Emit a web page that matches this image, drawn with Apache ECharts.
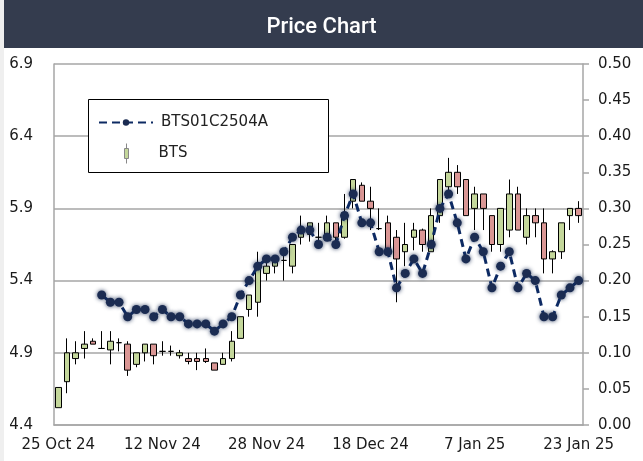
<!DOCTYPE html>
<html>
<head>
<meta charset="utf-8">
<script src="https://cdn.jsdelivr.net/npm/echarts@6/dist/echarts.min.js"></script>
<style>
  html, body { margin: 0; padding: 0; background: #fff; }
  #chart { width: 643px; height: 461px; }
</style>
</head>
<body>
<div id="chart"></div>
<script>
// trading days (SET calendar)
var dates = ['25 Oct 24','28 Oct 24','29 Oct 24','30 Oct 24','31 Oct 24','1 Nov 24','4 Nov 24','5 Nov 24','6 Nov 24','7 Nov 24',
  '8 Nov 24','11 Nov 24','12 Nov 24','13 Nov 24','14 Nov 24','15 Nov 24','18 Nov 24','19 Nov 24','20 Nov 24','21 Nov 24',
  '22 Nov 24','25 Nov 24','26 Nov 24','27 Nov 24','28 Nov 24','29 Nov 24','2 Dec 24','3 Dec 24','4 Dec 24','6 Dec 24',
  '9 Dec 24','11 Dec 24','12 Dec 24','13 Dec 24','16 Dec 24','17 Dec 24','18 Dec 24','19 Dec 24','20 Dec 24','23 Dec 24',
  '24 Dec 24','25 Dec 24','26 Dec 24','27 Dec 24','30 Dec 24','2 Jan 25','3 Jan 25','6 Jan 25','7 Jan 25','8 Jan 25',
  '9 Jan 25','10 Jan 25','13 Jan 25','14 Jan 25','15 Jan 25','16 Jan 25','17 Jan 25','20 Jan 25','21 Jan 25','22 Jan 25',
  '23 Jan 25'];

// BTS candles
var btsOpen = [4.52,4.70,4.86,4.93,4.98,4.93,4.92,4.97,4.96,4.82,
  4.90,4.96,4.91,4.91,4.88,4.86,4.86,4.86,4.83,4.82,
  4.86,5.00,5.20,5.25,5.45,5.50,5.54,5.50,5.70,5.72,
  5.70,5.70,5.80,5.70,5.95,6.06,5.95,5.76,5.80,5.70,
  5.60,5.70,5.75,5.60,5.85,6.05,6.15,6.10,5.90,6.00,
  5.85,5.65,5.75,6.00,5.70,5.85,5.80,5.55,5.60,5.85,
  5.90];
var btsClose = [4.66,4.90,4.90,4.96,4.96,4.93,4.98,4.97,4.78,4.90,
  4.96,4.88,4.91,4.91,4.90,4.84,4.84,4.84,4.78,4.86,
  4.98,5.15,5.30,5.48,5.50,5.55,5.54,5.65,5.75,5.80,
  5.70,5.80,5.70,5.87,6.10,5.95,5.90,5.76,5.60,5.55,
  5.65,5.75,5.65,5.85,6.10,6.15,6.05,5.85,6.00,5.90,
  5.65,5.90,6.00,5.75,5.85,5.80,5.55,5.60,5.80,5.90,
  5.85];
var btsLow = [4.52,4.62,4.82,4.86,4.96,4.93,4.82,4.91,4.74,4.80,
  4.84,4.82,4.88,4.88,4.86,4.82,4.78,4.83,4.78,4.82,
  4.84,5.00,5.15,5.15,5.40,5.45,5.40,5.45,5.65,5.67,
  5.63,5.68,5.66,5.69,5.90,5.95,5.75,5.75,5.59,5.25,
  5.50,5.61,5.60,5.60,5.80,6.00,6.00,5.85,5.75,5.75,
  5.60,5.60,5.70,5.75,5.65,5.70,5.45,5.45,5.55,5.75,
  5.80];
var btsHigh = [4.66,5.00,4.98,5.05,5.00,5.05,5.05,5.00,4.98,4.90,
  4.96,4.96,4.98,4.95,4.92,4.90,4.90,4.93,4.83,4.90,
  5.05,5.15,5.30,5.60,5.54,5.57,5.60,5.65,5.85,5.80,
  5.80,5.85,5.80,6.00,6.10,6.08,6.05,5.90,5.85,5.75,
  5.80,5.80,5.76,5.90,6.10,6.25,6.20,6.10,6.05,6.00,
  5.85,5.90,6.10,6.05,5.90,5.90,5.90,5.61,5.80,5.90,
  5.95];

// warrant BTS01C2504A (right axis), starts on 1 Nov
var dwPrice = [null,null,null,null,null,0.18,0.17,0.17,0.15,0.16,
  0.16,0.15,0.16,0.15,0.15,0.14,0.14,0.14,0.13,0.14,
  0.15,0.18,0.20,0.22,0.23,0.23,0.24,0.26,0.27,0.27,
  0.25,0.26,0.25,0.29,0.32,0.28,0.28,0.24,0.24,0.19,
  0.21,0.23,0.21,0.25,0.30,0.32,0.28,0.23,0.26,0.24,
  0.19,0.22,0.24,0.19,0.21,0.20,0.15,0.15,0.18,0.19,
  0.20];

var candles = btsOpen.map(function (o, i) {
  return [o, btsClose[i], btsLow[i], btsHigh[i]];
});

var font = 'DejaVu Sans';
var gridColor = '#a6a6a6';

var chart = echarts.init(document.getElementById('chart'));
chart.setOption({
  animation: false,
  title: {
    text: 'Price Chart',
    left: 'center',
    top: 11,
    z: 20,
    textStyle: { color: '#fff', fontSize: 22, fontWeight: 500, fontFamily: 'Roboto' }
  },
  graphic: [
    { type: 'rect', left: 0, top: 0, z: 1, shape: { width: 4, height: 461 }, style: { fill: '#efefef' } },
    { type: 'rect', left: 4, top: 0, z: 1, shape: { width: 639, height: 48 }, style: { fill: '#343c4e' } },
    // legend box
    { type: 'rect', left: 88, top: 99, z: 5, shape: { width: 240, height: 73 },
      style: { fill: '#fff', stroke: '#000', lineWidth: 1 } }
  ],
  legend: [{
    data: ['BTS01C2504A'],
    left: 98, top: 115, z: 10, padding: 0,
    itemWidth: 54, itemHeight: 8,
    textStyle: { fontFamily: font, fontSize: 15, color: '#222', padding: [0, 0, 0, 3] }
  }, {
    data: [{ name: 'BTS', icon: 'path://M2,0L2,5M0,5H4V15H0ZM2,15L2,20',
      itemStyle: { color: '#c4d79b', borderColor: '#888', borderWidth: 1 } }],
    left: 124, top: 143, z: 10, padding: 0,
    itemWidth: 54, itemHeight: 20,
    textStyle: { fontFamily: font, fontSize: 15, color: '#222', padding: 0 }
  }],
  grid: { left: 54, right: 60, top: 64, bottom: 36 },
  xAxis: {
    type: 'category',
    data: dates,
    boundaryGap: true,
    axisLine: { lineStyle: { color: gridColor, width: 1.5 } },
    axisTick: { show: false },
    axisLabel: { interval: 11, margin: 13, fontFamily: font, fontSize: 15, color: '#1a1a1a' }
  },
  yAxis: [{
    type: 'value',
    position: 'left',
    min: 4.4, max: 6.9, interval: 0.5,
    axisLine: { show: true, lineStyle: { color: gridColor, width: 1.5 } },
    axisTick: { show: false },
    axisLabel: { margin: 21, fontFamily: font, fontSize: 15, color: '#1a1a1a',
      formatter: function (v) { return v.toFixed(1); } },
    splitLine: { lineStyle: { color: gridColor, width: 1.5 } }
  }, {
    type: 'value',
    position: 'right',
    min: 0, max: 0.5, interval: 0.05,
    axisLine: { show: true, lineStyle: { color: gridColor, width: 1.5 } },
    axisTick: { show: true, length: 6, lineStyle: { color: gridColor, width: 1.5 } },
    axisLabel: { margin: 15, fontFamily: font, fontSize: 15, color: '#1a1a1a',
      formatter: function (v) { return v.toFixed(2); } },
    splitLine: { show: false }
  }],
  series: [{
    name: 'BTS',
    type: 'candlestick',
    yAxisIndex: 0,
    barWidth: 6,
    data: candles,
    itemStyle: {
      color: '#c4d79b', color0: '#da9694',
      borderColor: '#000', borderColor0: '#000', borderColorDoji: '#000',
      borderWidth: 1
    }
  }, {
    name: 'BTS01C2504A',
    type: 'line',
    yAxisIndex: 1,
    z: 5,
    data: dwPrice,
    symbol: 'circle',
    symbolSize: 9,
    showAllSymbol: true,
    lineStyle: { color: '#0d2a63', width: 3, type: [8, 5] },
    itemStyle: { color: '#1b2c52', shadowBlur: 4, shadowColor: 'rgba(27,44,82,0.9)' }
  }]
});
</script>
</body>
</html>
